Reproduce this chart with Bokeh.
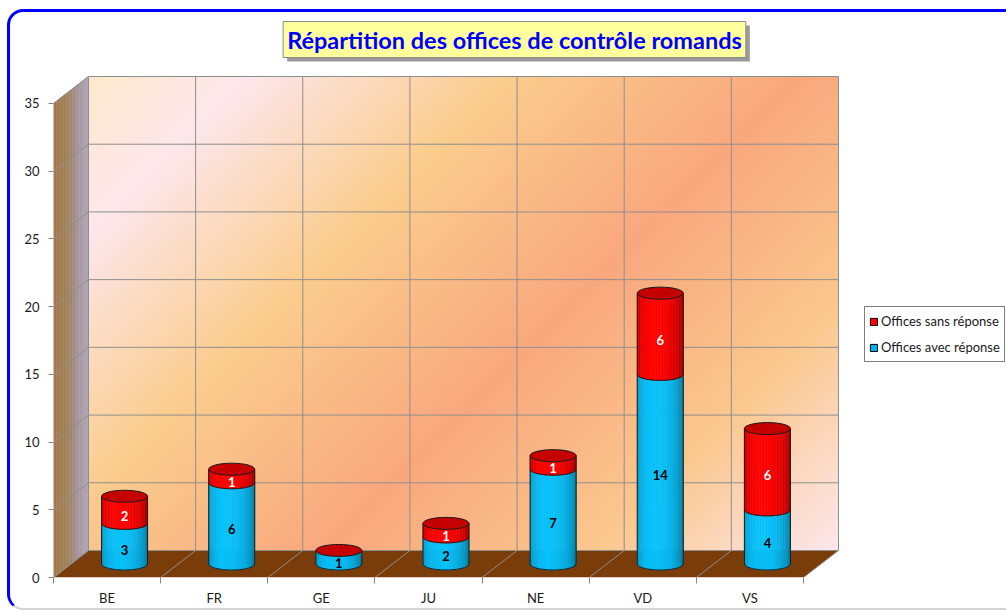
import numpy as np
from bokeh.plotting import figure
from bokeh.models import (ColumnDataSource, FixedTicker, Label, Legend, LegendItem,
                          Range1d, InlineStyleSheet)
from bokeh.core.properties import value
from bokeh.embed import file_html
from bokeh.resources import INLINE

# ---------------- data ----------------
categories = ["BE", "FR", "GE", "JU", "NE", "VD", "VS"]
avec_reponse = [3, 6, 1, 2, 7, 14, 4]
sans_reponse = [2, 1, 0, 1, 1, 6, 6]
label_avec = "Offices avec réponse"
label_sans = "Offices sans réponse"
y_ticks = [0, 5, 10, 15, 20, 25, 30, 35]
title_text = "Répartition des offices de contrôle romands"

# ---------------- layout constants ----------------
W, H = 1006, 613
LEFT, BOTTOM = 53, 36
PX_CAT = 107.14        # px per category
PX_UNIT = 13.543       # px per value unit
YMAX = 35
NCAT = len(categories)
DX = 35 / PX_CAT       # depth offset (x, data units)
DY = 27 / PX_UNIT      # depth offset (y, data units)
X0 = -0.5
FONT = "Lato"


def sx_to_x(sx):
    return X0 + (sx - LEFT) / PX_CAT


def sy_to_y(sy):
    return (H - BOTTOM - sy) / PX_UNIT


p = figure(width=W, height=H,
           x_range=Range1d(X0, X0 + (W - LEFT) / PX_CAT),
           y_range=Range1d(0, (H - BOTTOM) / PX_UNIT),
           output_backend="svg", toolbar_location=None, title=None,
           min_border_left=LEFT, min_border_bottom=BOTTOM,
           min_border_top=0, min_border_right=0)
p.xgrid.visible = False
p.ygrid.visible = False
p.outline_line_color = None
p.background_fill_color = "white"
p.border_fill_color = "white"

p.stylesheets = [InlineStyleSheet(css="""
:host { position: relative; }
:host::after {
  content: ""; position: absolute; left: 7px; top: 9px; right: 0px; bottom: 3px;
  border-left: 3px solid #0000FF; border-top: 3px solid #0000FF;
  border-bottom: 2px solid #D4D4D4; border-right: none;
  border-top-left-radius: 16px; border-bottom-left-radius: 16px;
  pointer-events: none; box-sizing: border-box;
}
""")]

# ---------------- walls ----------------
def lerp_stops(t, stops):
    ts = [s[0] for s in stops]
    return [np.interp(t, ts, [s[1][c] for s in stops]) for c in range(3)]

# back wall gradient (diagonal)
wall_stops = [(0.00, (253, 233, 205)), (0.13, (253, 231, 236)), (0.34, (251, 205, 142)),
              (0.58, (249, 168, 126)), (0.80, (251, 200, 142)), (1.00, (253, 232, 238))]
nx, ny = 320, 220
wpx, hpx = NCAT * PX_CAT, YMAX * PX_UNIT
uu = (np.arange(nx) + 0.5) / nx
vv = (np.arange(ny) + 0.5) / ny
U, V = np.meshgrid(uu, vv)
T = (U * wpx + (1 - V) * hpx) / (wpx + hpx)
img = np.zeros((ny, nx), dtype=np.uint32)
view = img.view(dtype=np.uint8).reshape((ny, nx, 4))
rgb = lerp_stops(T, wall_stops)
view[:, :, 0] = rgb[0].astype(np.uint8)
view[:, :, 1] = rgb[1].astype(np.uint8)
view[:, :, 2] = rgb[2].astype(np.uint8)
view[:, :, 3] = 255
p.image_rgba(image=[img], x=X0 + DX, y=DY, dw=NCAT, dh=YMAX)

# side wall (horizontal gradient strips)
side_stops = [(0.0, (168, 120, 82)), (0.35, (160, 128, 82)), (0.7, (166, 148, 156)), (1.0, (176, 168, 184))]
NS = 24
sxs, sys_, scol = [], [], []
for k in range(NS):
    a, b = k / NS, (k + 1) / NS
    xa, xb = X0 + a * DX, X0 + b * DX
    sxs.append([xa, xb, xb, xa])
    sys_.append([a * DY, b * DY, YMAX + b * DY, YMAX + a * DY])
    c = lerp_stops((a + b) / 2, side_stops)
    scol.append("#%02x%02x%02x" % tuple(int(v) for v in c))
p.patches(xs=sxs, ys=sys_, fill_color=scol, line_color=scol, line_width=0.6)

# floor
p.patch(x=[X0, X0 + NCAT, X0 + NCAT + DX, X0 + DX], y=[0, 0, DY, DY],
        fill_color="#7A3D0A", line_color=None)

# grid lines
gx, gy = [], []
for t in y_ticks:
    gx.append([X0, X0 + DX, X0 + DX + NCAT]); gy.append([t, t + DY, t + DY])
for i in range(NCAT + 1):
    gx.append([X0 + i, X0 + i + DX, X0 + i + DX]); gy.append([0, DY, DY + YMAX])
p.multi_line(xs=gx, ys=gy, line_color="#8E8E8E", line_width=1)

# ---------------- cylinders ----------------
HW = 23 / PX_CAT
RY = 6 / PX_UNIT
BASE = DY / 2
NST = 30
blue_base = np.array([8, 196, 255])
red_base = np.array([255, 0, 0])


def shade(u):
    n = np.sqrt(max(0.0, 1 - u * u))
    b = 0.64 + 0.40 * (0.88 * n - 0.18 * u)
    return min(1.0, b)


strip = {"xs": [], "ys": [], "c": []}
outl = {"xs": [], "ys": []}
labels = {"x": [], "y": [], "t": [], "c": []}
caps = {"x": [], "y": []}

for i, cat in enumerate(categories):
    cx = i + DX / 2
    y_a = BASE + avec_reponse[i]
    y_b = y_a + sans_reponse[i]
    for (y0, y1, col, v, tc) in [(BASE, y_a, blue_base, avec_reponse[i], "#000000"),
                                 (y_a, y_b, red_base, sans_reponse[i], "#FFFFFF")]:
        if v <= 0:
            continue
        for k in range(NST):
            u0 = -1 + 2 * k / NST
            u1 = -1 + 2 * (k + 1) / NST
            a0 = RY * np.sqrt(max(0.0, 1 - u0 * u0))
            a1 = RY * np.sqrt(max(0.0, 1 - u1 * u1))
            xa, xb = cx + u0 * HW, cx + u1 * HW
            strip["xs"].append([xa, xb, xb, xa])
            strip["ys"].append([y0 - a0, y0 - a1, y1 - a1, y1 - a0])
            c = np.clip(col * shade((u0 + u1) / 2), 0, 255)
            strip["c"].append("#%02x%02x%02x" % tuple(int(q) for q in c))
        us = np.linspace(-1, 1, 41)
        ox = [cx - HW] + list(cx + us * HW) + [cx + HW]
        oy = [y1] + list(y0 - RY * np.sqrt(np.clip(1 - us * us, 0, 1))) + [y1]
        outl["xs"].append(ox)
        outl["ys"].append(oy)
        labels["x"].append(cx)
        labels["y"].append((y0 + y1) / 2 - RY)
        labels["t"].append(str(v))
        labels["c"].append(tc)
    caps["x"].append(cx)
    caps["y"].append(y_b)

p.patches(xs=strip["xs"], ys=strip["ys"], fill_color=strip["c"], line_color=strip["c"], line_width=0.6)
p.multi_line(xs=outl["xs"], ys=outl["ys"], line_color="#1A1A1A", line_width=1)
p.ellipse(x=caps["x"], y=caps["y"], width=2 * HW, height=2 * RY,
          fill_color="#C40000", line_color="#1A1A1A", line_width=1)
p.text(x="x", y="y", text="t", source=ColumnDataSource(labels), text_color="c",
       text_align="center", text_baseline="middle", text_font=value(FONT),
       text_font_style="bold", text_font_size="13px")

# ---------------- axes ----------------
xa = p.xaxis[0]
xa.ticker = FixedTicker(ticks=list(range(NCAT)), minor_ticks=[X0 + i for i in range(NCAT + 1)])
xa.major_label_overrides = {i: c for i, c in enumerate(categories)}
xa.axis_line_color = None
xa.major_tick_out = 0
xa.major_tick_in = 0
xa.minor_tick_out = 6
xa.minor_tick_in = 0
xa.minor_tick_line_color = "#868686"
xa.major_label_standoff = 6
xa.major_label_text_font = FONT
xa.major_label_text_font_size = "13px"
xa.major_label_text_color = "#1A1A1A"

ya = p.yaxis[0]
ya.ticker = FixedTicker(ticks=y_ticks, minor_ticks=[])
ya.axis_line_color = None
ya.major_tick_out = 5
ya.major_tick_in = 0
ya.major_tick_line_color = "#868686"
ya.minor_tick_out = 0
ya.minor_tick_in = 0
ya.major_label_standoff = 9
ya.major_label_text_font = FONT
ya.major_label_text_font_size = "13px"
ya.major_label_text_color = "#1A1A1A"

# ---------------- title ----------------
tx, ty = sx_to_x(514), sy_to_y(39)
shadow = Label(x=tx, y=ty, text=title_text, text_align="center", text_baseline="middle",
               text_font=FONT, text_font_style="bold", text_font_size="23.5px",
               text_color="#9A9A9A",
               background_fill_color="#9A9A9A", background_fill_alpha=1.0,
               x_offset=4, y_offset=-4, padding=4)
p.add_layout(shadow)
title = Label(x=tx, y=ty, text=title_text, text_align="center", text_baseline="middle",
              text_font=FONT, text_font_style="bold", text_font_size="23.5px", text_color="#0000FF",
              background_fill_color="#FFFF9E", border_line_color="#8A8A8A", border_line_width=1,
              padding=4)
p.add_layout(title)

# ---------------- legend ----------------
# legend swatches: renderers holding one non-drawable (NaN) item so their styles apply
swatch = ColumnDataSource(dict(l=[np.nan], r=[np.nan], b=[np.nan], t=[np.nan]))
r_sans = p.quad(left="l", right="r", bottom="b", top="t", source=swatch,
                fill_color="#FF0000", line_color="#000000")
r_avec = p.quad(left="l", right="r", bottom="b", top="t", source=swatch,
                fill_color="#00B0F0", line_color="#000000")
legend = Legend(items=[LegendItem(label=label_sans, renderers=[r_sans]),
                       LegendItem(label=label_avec, renderers=[r_avec])],
                location=(864 - LEFT, H - BOTTOM - 362))
legend.border_line_color = "#000000"
legend.border_line_width = 1
legend.background_fill_color = "white"
legend.background_fill_alpha = 1
legend.label_text_font = FONT
legend.label_text_font_size = "13px"
legend.label_text_color = "#1A1A1A"
legend.glyph_width = 9
legend.glyph_height = 9
legend.label_standoff = 3
legend.padding = 4
legend.spacing = 6
legend.label_height = 20
legend.margin = 0
p.add_layout(legend)

open("out.html", "w").write(file_html(p, INLINE))
